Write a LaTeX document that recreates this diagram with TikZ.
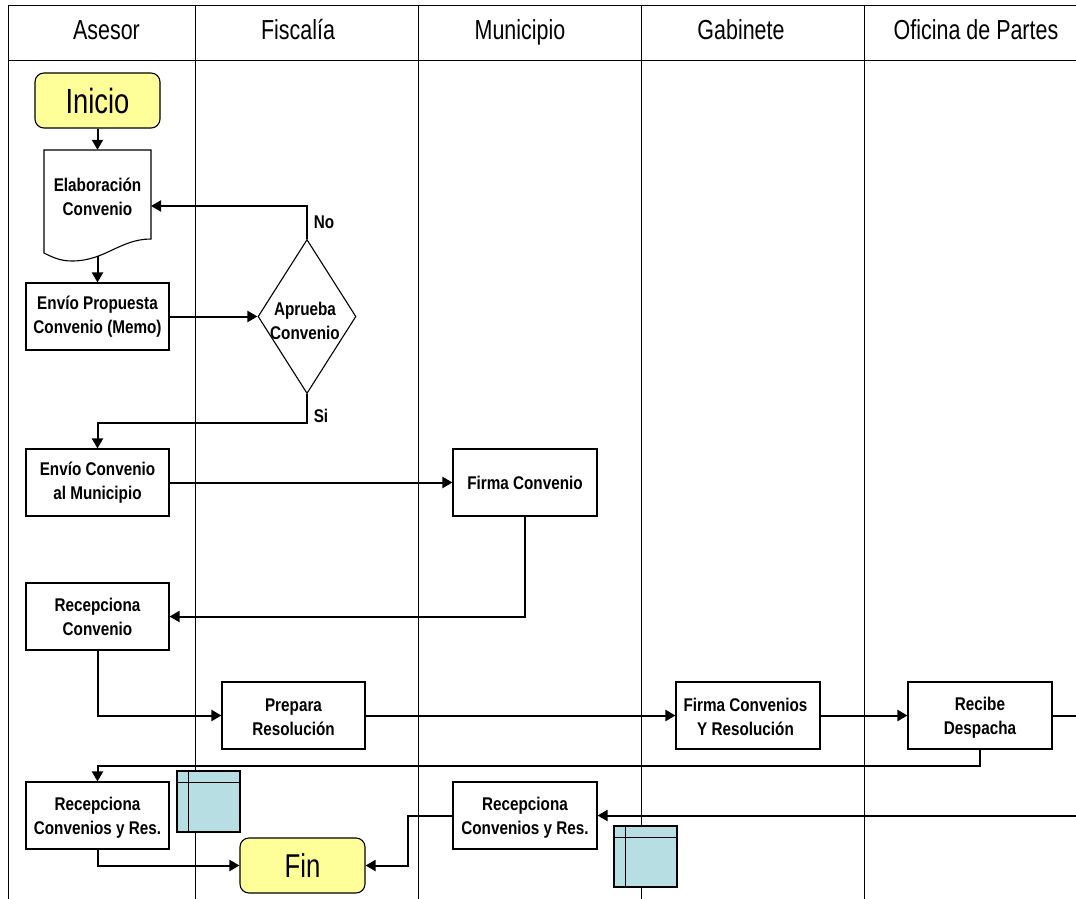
\documentclass[tikz,border=0pt]{standalone}
\usepackage{fontspec}
\setmainfont{Liberation Sans}[FakeStretch=.78]
\newfontfamily\bld{Liberation Sans}[UprightFont={* Bold},FakeStretch=.83]
\usetikzlibrary{arrows.meta,shapes.geometric,positioning}
\tikzset{
  lane/.style={draw=black,line width=1pt},
  wire/.style={draw=black,line width=2pt,-{Triangle[length=10pt,width=11pt]}},
  plainwire/.style={draw=black,line width=2pt},
  stepbox/.style={draw=black,line width=1.1pt,fill=white,minimum width=143pt,minimum height=67pt,inner sep=0pt},
  boxtext/.style={inner sep=0pt,align=center,font=\fontsize{18.4}{24}\bld},
  term/.style={draw=black,line width=1.1pt,fill=termyellow,rounded corners=9pt,minimum width=125pt,minimum height=55pt,inner sep=0pt},
  head/.style={inner sep=0pt,anchor=base,font=\fontsize{27.5}{30}\selectfont},
  lbl/.style={inner sep=0pt,font=\fontsize{18.4}{24}\bld},
  storefill/.style={draw=black,line width=1.1pt,fill=storeblue},
}
\definecolor{termyellow}{HTML}{FFFF99}
\definecolor{storeblue}{HTML}{B7DEE2}
\begin{document}
\begin{tikzpicture}[x=1pt,y=-1pt]
\useasboundingbox (0,0) rectangle (1076,899);
\fill[white] (0,0) rectangle (1076,899);
% lanes
\draw[lane] (1076,6) -- (8,6) -- (8,899);
\draw[lane] (8,61) -- (1076,61);
\foreach \x in {195,418,641,864} \draw[lane] (\x,6) -- (\x,899);
\node[head] (h1) at (106.5,40) {Asesor};
\node[head] (h2) at (298,40) {Fiscalía};
\node[head] (h3) at (520,40) {Municipio};
\node[head] (h4) at (741,40) {Gabinete};
\node[head] (h5) at (976,40) {Oficina de Partes};
% nodes
\node[term,font=\fontsize{35}{40}\selectfont] (ini) at (97.5,100.5) {Inicio};
\draw[black,line width=1.1pt,fill=white] (44,150) -- (151,150) -- (151,239) .. controls (120,239) and (105,261) .. (72,261) .. controls (60,261) and (52,257) .. (44,253) -- cycle;
\node[minimum width=107pt,minimum height=94pt,boxtext] (doc) at (97.5,197) {Elaboración\\Convenio};
\coordinate (docE) at (151,206);
\coordinate (docS) at (97.5,256);
\node[stepbox] (prop) at (97.5,316.5) {};
\node[boxtext] (propt) at (97.5,316.5) {Envío Propuesta\\Convenio (Memo)};
\node[diamond,draw=black,line width=1.1pt,fill=white,minimum width=98pt,minimum height=154pt,inner sep=0pt,aspect=.64] (dia) at (307,316.5) {};
\node[boxtext] (diat) at (305,321) {Aprueba\\Convenio};
\node[stepbox] (env) at (97.5,482.5) {};
\node[boxtext] (envt) at (97.5,482.5) {Envío Convenio\\al Municipio};
\node[stepbox,minimum width=144pt] (firma) at (525,482.5) {};
\node[boxtext] (firmat) at (525,482.5) {Firma Convenio};
\node[stepbox] (rec) at (97.5,616.5) {};
\node[boxtext] (rect) at (97.5,616.5) {Recepciona\\Convenio};
\node[stepbox] (prep) at (293.5,715.5) {};
\node[boxtext] (prept) at (293.5,717.5) {Prepara\\Resolución};
\node[stepbox,minimum width=144pt] (firmas) at (748,715.5) {};
\node[boxtext] (firmast) at (745.5,716.5) {Firma Convenios\\Y Resolución};
\node[stepbox,minimum width=144pt] (recibe) at (980,715.5) {};
\node[boxtext] (recibet) at (980,717.5) {Recibe\\Despacha};
\node[stepbox] (rec2) at (97.5,815.5) {};
\node[boxtext] (rec2t) at (97.5,818) {Recepciona\\Convenios y Res.};
\node[stepbox,minimum width=144pt] (rec3) at (525,815.5) {};
\node[boxtext] (rec3t) at (525,818) {Recepciona\\Convenios y Res.};
\node[term,font=\fontsize{33}{38}\selectfont] (fin) at (302.5,865.5) {Fin};
\coordinate (outA) at (1076,715.5);
\coordinate (inB) at (1076,815.5);
% connectors
\draw[wire] (ini.south) -- (ini.south |- doc.north);
\draw[wire] (docS) -- (prop.north);
\draw[wire] (prop.east) -- (dia.west);
\draw[wire] (dia.north) |- (docE);
\node[lbl] (no) at (324,222) {No};
\draw[wire] (dia.south) -- ++(0,28.5) -| (env.north);
\node[lbl] (si) at (321,416) {Si};
\draw[wire] (env.east) -- (firma.west);
\draw[wire] (firma.south) |- (rec.east);
\draw[wire] (rec.south) |- (prep.west);
\draw[wire] (prep.east) -- (firmas.west);
\draw[wire] (firmas.east) -- (recibe.west);
\draw[plainwire] (recibe.east) -- (outA);
\draw[wire] (recibe.south) -- ++(0,16.5) -| (rec2.north);
\draw[wire] (inB) -- (rec3.east);
\draw[wire] (rec3.west) -- ++(-44,0) |- (fin.east);
\draw[wire] (rec2.south) |- (fin.west);
% stores
\node[storefill,minimum width=63pt,minimum height=61pt,inner sep=0pt] (st1) at (208.5,801.5) {};
\draw[black,line width=1.1pt] ([xshift=12pt]st1.north west) -- ([xshift=12pt]st1.south west);
\draw[black,line width=1.1pt] ([yshift=-12pt]st1.north west) -- ([yshift=-12pt]st1.north east);
\node[storefill,minimum width=63pt,minimum height=61pt,inner sep=0pt] (st2) at (645.5,856.5) {};
\draw[black,line width=1.1pt] ([xshift=12pt]st2.north west) -- ([xshift=12pt]st2.south west);
\draw[black,line width=1.1pt] ([yshift=-12pt]st2.north west) -- ([yshift=-12pt]st2.north east);
\end{tikzpicture}
\end{document}
